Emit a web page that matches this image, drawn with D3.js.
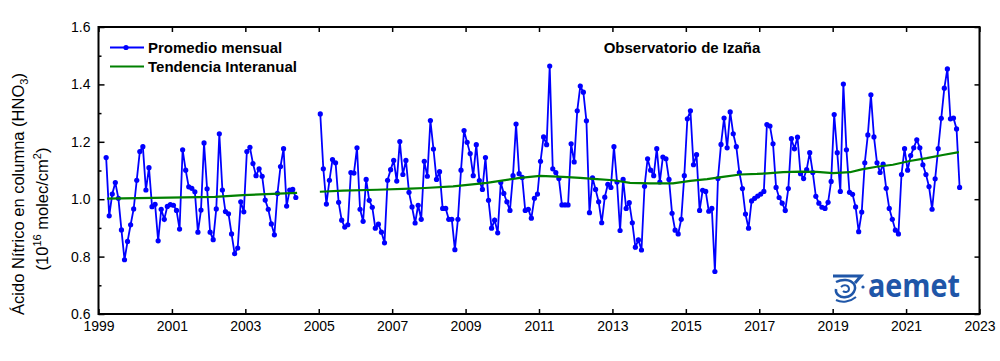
<!DOCTYPE html>
<html>
<head>
<meta charset="utf-8">
<script src="https://cdn.jsdelivr.net/npm/d3@7/dist/d3.min.js"></script>
<style>
  body { margin: 0; background: #fff; }
  text { font-family: "Liberation Sans", Arial, sans-serif; }
</style>
</head>
<body>
<svg id="chart" width="1000" height="361"></svg>
<script>
// monthly means, first block starts March 1999
var block1Start = [1999, 3];
var block1Values = [
  1.145, 0.942, 1.018, 1.058, 1.003, 0.893, 0.789, 0.853, 0.911, 0.966,
  1.066, 1.166, 1.183, 1.032, 1.110, 0.974, 0.982, 0.855, 0.965, 0.930,
  0.975, 0.981, 0.979, 0.961, 0.896, 1.172, 1.101, 1.043, 1.038, 1.026,
  0.885, 0.962, 1.196, 1.036, 0.885, 0.859, 0.966, 1.228, 1.032, 0.957,
  0.949, 0.879, 0.810, 0.830, 0.991, 0.956, 1.166, 1.181, 1.124, 1.082,
  1.106, 1.080, 0.997, 0.965, 0.914, 0.876, 1.020, 1.114, 1.176, 0.976,
  1.032, 1.034, 1.006
];
// second block starts January 2005
var block2Start = [2005, 1];
var block2Values = [
  1.297, 1.106, 0.983, 1.066, 1.138, 1.127, 0.989, 0.927, 0.903, 0.911,
  1.093, 1.091, 1.179, 0.965, 0.923, 1.069, 0.996, 0.972, 0.899, 0.913,
  0.885, 0.848, 1.066, 1.103, 1.135, 1.063, 1.201, 1.086, 1.135, 1.024,
  0.973, 0.917, 0.979, 0.930, 1.132, 1.080, 1.274, 1.175, 1.069, 1.096,
  0.968, 0.968, 0.930, 0.930, 0.824, 0.930, 1.101, 1.239, 1.198, 1.159,
  1.082, 1.190, 1.065, 1.034, 1.145, 0.996, 0.899, 0.927, 0.883, 1.058,
  1.020, 0.991, 0.961, 1.082, 1.262, 1.089, 1.076, 0.961, 0.965, 0.934,
  1.003, 1.018, 1.132, 1.217, 1.190, 1.464, 1.106, 1.093, 1.072, 0.980,
  0.980, 0.980, 1.193, 1.130, 1.308, 1.394, 1.373, 1.273, 0.953, 1.074,
  1.034, 0.991, 0.918, 1.007, 1.052, 1.041, 1.183, 1.060, 0.891, 1.069,
  0.968, 0.988, 0.918, 0.833, 0.858, 0.823, 1.045, 1.141, 1.101, 1.082,
  1.176, 1.060, 1.147, 1.141, 1.069, 0.951, 0.892, 0.879, 0.930, 1.082,
  1.280, 1.308, 1.120, 1.155, 0.961, 1.031, 1.027, 0.958, 0.968, 0.748,
  1.072, 1.191, 1.283, 1.179, 1.304, 1.228, 1.183, 1.093, 1.037, 0.948,
  0.899, 0.994, 1.003, 1.011, 1.018, 1.027, 1.260, 1.255, 1.193, 1.041,
  1.006, 0.986, 0.961, 1.037, 1.211, 1.176, 1.216, 1.089, 1.072, 1.103,
  1.162, 1.093, 1.010, 0.986, 0.972, 0.968, 0.989, 1.062, 1.295, 1.162,
  1.027, 1.401, 1.172, 1.024, 1.017, 0.973, 0.887, 0.955, 1.127, 1.224,
  1.364, 1.217, 1.127, 1.093, 1.122, 1.038, 0.968, 0.930, 0.892, 0.879,
  1.086, 1.176, 1.101, 1.152, 1.179, 1.207, 1.179, 1.120, 1.086, 1.044,
  0.965, 1.071, 1.176, 1.282, 1.387, 1.454, 1.280, 1.283, 1.245, 1.041
];

// interannual trend (decimal year / value)
var trend1Years  = [1999.23, 2002.17, 2002.94, 2004.41];
var trend1Values = [1.002, 1.008, 1.014, 1.022];
var trend2Years  = [2005.03, 2005.66, 2006.59, 2007.49, 2007.89, 2008.66, 2009.58, 2010.48, 2011.03, 2011.65,
                    2012.12, 2012.58, 2013.02, 2013.48, 2014.03, 2014.65, 2015.12, 2015.58, 2016.01, 2016.48,
                    2016.94, 2017.21, 2017.65, 2018.11, 2018.57, 2019.01, 2019.47, 2019.79, 2020.2, 2020.64,
                    2021.1, 2021.56, 2022.0, 2022.44];
var trend2Values = [1.026, 1.030, 1.033, 1.037, 1.039, 1.045, 1.057, 1.074, 1.081, 1.078,
                    1.074, 1.070, 1.066, 1.057, 1.055, 1.055, 1.064, 1.070, 1.078, 1.086,
                    1.088, 1.090, 1.094, 1.096, 1.095, 1.091, 1.094, 1.104, 1.113, 1.120,
                    1.133, 1.143, 1.154, 1.164];

var xTickYears = [1999, 2001, 2003, 2005, 2007, 2009, 2011, 2013, 2015, 2017, 2019, 2021, 2023];
var yTickValues = [0.6, 0.8, 1.0, 1.2, 1.4, 1.6];
var yMinorValues = [0.7, 0.9, 1.1, 1.3, 1.5];

var blue = "#0000ff", green = "#008000";

var svg = d3.select("#chart");

var x = d3.scaleLinear().domain([1999, 2023]).range([98.5, 979.5]);
var y = d3.scaleLinear().domain([0.6, 1.6]).range([314, 27]);

function toPoints(start, values) {
  return values.map(function (v, i) {
    var m = start[1] - 1 + i;
    return { t: start[0] + (m + 0.5) / 12, v: v };
  });
}
var block1 = toPoints(block1Start, block1Values);
var block2 = toPoints(block2Start, block2Values);
var trend1 = trend1Years.map(function (t, i) { return { t: t, v: trend1Values[i] }; });
var trend2 = trend2Years.map(function (t, i) { return { t: t, v: trend2Values[i] }; });

var line = d3.line()
  .x(function (d) { return x(d.t); })
  .y(function (d) { return y(d.v); });

// monthly series
[block1, block2].forEach(function (b) {
  svg.append("path").datum(b)
    .attr("d", line)
    .attr("fill", "none")
    .attr("stroke", blue)
    .attr("stroke-width", 1.8);
  svg.append("g").selectAll("circle").data(b).enter()
    .append("circle")
    .attr("cx", function (d) { return x(d.t); })
    .attr("cy", function (d) { return y(d.v); })
    .attr("r", 2.6)
    .attr("fill", blue);
});

// trend
[trend1, trend2].forEach(function (b) {
  svg.append("path").datum(b)
    .attr("d", line)
    .attr("fill", "none")
    .attr("stroke", green)
    .attr("stroke-width", 2.2);
});

// axes
var axisFont = function (g) {
  g.select(".domain").remove();
  g.selectAll("text").attr("font-size", 14).attr("fill", "#000")
    .style("font-family", "'Liberation Sans Narrow', 'Liberation Sans', Arial, sans-serif");
  g.selectAll("line").attr("stroke", "#000").attr("stroke-width", 1.5);
};

svg.append("g")
  .attr("transform", "translate(0,314)")
  .call(d3.axisBottom(x).tickValues(xTickYears).tickFormat(d3.format("d"))
    .tickSizeInner(-5).tickSizeOuter(0).tickPadding(7))
  .call(axisFont);

svg.append("g")
  .attr("transform", "translate(0,27)")
  .call(d3.axisTop(x).tickValues(xTickYears).tickFormat("")
    .tickSizeInner(-5).tickSizeOuter(0))
  .call(axisFont);

svg.append("g")
  .attr("transform", "translate(98.5,0)")
  .call(d3.axisLeft(y).tickValues(yTickValues).tickFormat(d3.format(".1f"))
    .tickSizeInner(-6).tickSizeOuter(0).tickPadding(8))
  .call(axisFont);

svg.append("g")
  .attr("transform", "translate(98.5,0)")
  .call(d3.axisLeft(y).tickValues(yMinorValues).tickFormat("")
    .tickSizeInner(-3).tickSizeOuter(0))
  .call(axisFont);

svg.append("g")
  .attr("transform", "translate(979.5,0)")
  .call(d3.axisRight(y).tickValues(yTickValues).tickFormat("")
    .tickSizeInner(-5).tickSizeOuter(0))
  .call(axisFont);

// frame
svg.append("rect")
  .attr("x", x(1999)).attr("y", y(1.6))
  .attr("width", x(2023) - x(1999)).attr("height", y(0.6) - y(1.6))
  .attr("fill", "none").attr("stroke", "#000").attr("stroke-width", 2);

// y title
var yt = svg.append("g").attr("transform", "translate(24,194) rotate(-90)");
var t1 = yt.append("text").attr("text-anchor", "middle").attr("font-size", 16.5).attr("fill", "#000");
t1.append("tspan").text("Ácido Nítrico en columna (HNO");
t1.append("tspan").attr("font-size", 11).attr("dy", 4).text("3");
t1.append("tspan").attr("dy", -4).text(")");
var t2 = yt.append("text").attr("y", 24).attr("x", -15).attr("text-anchor", "middle").attr("font-size", 16.5).attr("fill", "#000");
t2.append("tspan").text("(10");
t2.append("tspan").attr("font-size", 11).attr("dy", -7).text("16");
t2.append("tspan").attr("dy", 7).text(" molec/cm");
t2.append("tspan").attr("font-size", 11).attr("dy", -7).text("2");
t2.append("tspan").attr("dy", 7).text(")");

// legend
var lg = svg.append("g");
lg.append("line").attr("x1", 110).attr("x2", 144).attr("y1", 47.5).attr("y2", 47.5)
  .attr("stroke", blue).attr("stroke-width", 1.8);
lg.append("circle").attr("cx", 126).attr("cy", 47.5).attr("r", 2.6).attr("fill", blue);
lg.append("text").attr("x", 148).attr("y", 53).attr("font-size", 15).attr("font-weight", "bold")
  .text("Promedio mensual");
lg.append("line").attr("x1", 110).attr("x2", 144).attr("y1", 66.5).attr("y2", 66.5)
  .attr("stroke", green).attr("stroke-width", 2.2);
lg.append("text").attr("x", 148).attr("y", 72).attr("font-size", 15).attr("font-weight", "bold")
  .text("Tendencia Interanual");

// station title
svg.append("text").attr("x", 682).attr("y", 52.5).attr("text-anchor", "middle")
  .attr("font-size", 15).attr("font-weight", "bold").text("Observatorio de Izaña");

// aemet logo
var logo = svg.append("g").attr("fill", "none").attr("stroke", "#1f56a8");
logo.append("path").attr("d", "M833,276 L861,276 L855,283").attr("stroke-width", 3);
logo.append("path").attr("d", "M836,282 C842,279 850,279 854,284 C857,289 853,296 846,297 C840,298 835,294 836,289")
  .attr("stroke-width", 2.5);
logo.append("path").attr("d", "M841,287 C844,284 849,285 849,289 C849,292 845,293 843,291")
  .attr("stroke-width", 2);
logo.append("path").attr("d", "M836,300 C842,303 850,302 856,297").attr("stroke-width", 2);
logo.append("circle").attr("cx", 863).attr("cy", 287).attr("r", 1.6).attr("fill", "#1f56a8").attr("stroke", "none");
svg.append("text").attr("x", 868).attr("y", 297).attr("font-size", 32).attr("font-weight", "bold")
  .attr("fill", "#1f56a8").attr("textLength", 92).attr("lengthAdjust", "spacingAndGlyphs")
  .style("font-family", "'Open Sans', 'Liberation Sans', sans-serif")
  .text("aemet");
</script>
</body>
</html>
